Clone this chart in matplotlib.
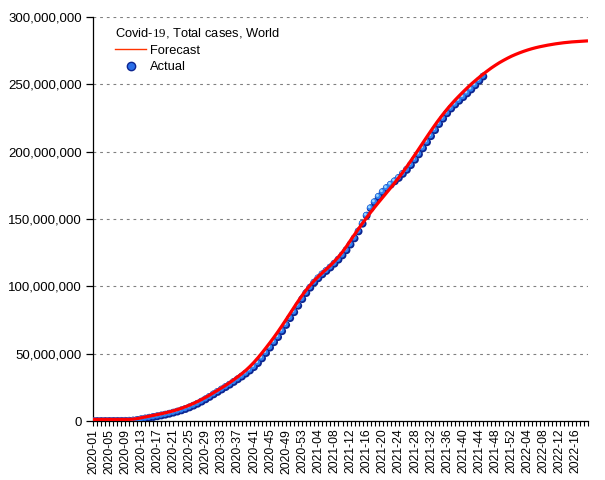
import matplotlib
matplotlib.use('Agg')
import matplotlib.pyplot as plt
import matplotlib.transforms as mtransforms
from matplotlib.lines import Line2D
from matplotlib.ticker import FuncFormatter

plt.rcParams['font.family'] = ['Liberation Sans', 'DejaVu Sans']
plt.rcParams['mathtext.fontset'] = 'custom'
plt.rcParams['mathtext.rm'] = 'Liberation Serif'

# ISO weeks on the x axis: 2020-01 .. 2022-19
weeks = ([f'2020-{w:02d}' for w in range(1, 54)] +
         [f'2021-{w:02d}' for w in range(1, 53)] +
         [f'2022-{w:02d}' for w in range(1, 20)])

# Actual cumulative cases (millions), 2020-01 .. 2021-46
actual_m = [
    0.0, 0.0002, 0.0021, 0.017, 0.040, 0.069, 0.079, 0.088, 0.110, 0.167,
    0.337, 0.72, 1.27, 1.85, 2.40, 2.95, 3.50, 4.10, 4.70, 5.40,
    6.20, 7.00, 7.90, 8.90, 10.1, 11.4, 12.8, 14.4, 16.1, 17.9,
    19.8, 21.6, 23.4, 25.2, 27.0, 29.0, 31.0, 33.0, 35.2, 37.5,
    40.0, 43.0, 46.5, 50.5, 54.5, 58.5, 62.3, 66.7, 71.3, 76.4,
    80.8, 85.6, 90.5, 95.0, 99.0, 102.8, 106.0, 108.9, 111.4, 114.0,
    116.8, 119.8, 123.0, 126.8, 131.0, 135.6, 140.8, 146.5, 152.5, 158.0,
    162.5, 166.5, 170.0, 173.0, 175.5, 178.0, 180.5, 183.5, 186.5, 190.0,
    194.0, 198.0, 202.5, 207.0, 211.5, 216.0, 220.5, 224.5, 228.5, 232.0,
    235.0, 237.8, 240.5, 243.3, 246.2, 249.3, 252.6, 255.8,
]

# Forecast cumulative cases (millions), whole range
forecast_m = [
    1.2, 1.2, 1.2, 1.2, 1.2, 1.2, 1.2, 1.2, 1.2, 1.2,
    1.4, 1.8, 2.4, 3.0, 3.6, 4.2, 4.8, 5.4, 6.1, 6.8,
    7.6, 8.5, 9.5, 10.6, 11.8, 13.1, 14.5, 16.0, 17.6, 19.3,
    21.1, 22.9, 24.7, 26.6, 28.6, 30.7, 32.9, 35.2, 37.7, 40.5,
    43.6, 47.0, 50.6, 54.4, 58.3, 62.3, 66.5, 70.9, 75.4, 80.0,
    84.6, 89.1, 93.4, 97.4, 101.0, 104.3, 107.3, 110.1, 112.8, 115.6,
    118.6, 121.9, 125.6, 129.7, 134.2, 138.5, 142.8, 147.0, 151.0, 155.0,
    158.8, 162.5, 166.1, 169.7, 173.3, 177.0, 180.8, 184.8, 189.0, 193.3,
    197.7, 202.2, 206.7, 211.2, 215.6, 219.9, 224.0, 227.9, 231.6, 235.1,
    238.4, 241.5, 244.5, 247.4, 250.2, 252.8, 255.3, 257.7, 260.0, 262.2,
    264.2, 266.1, 267.8, 269.4, 270.9, 272.2, 273.4, 274.5, 275.5, 276.4,
    277.2, 277.9, 278.5, 279.1, 279.6, 280.1, 280.5, 280.9, 281.2, 281.5,
    281.7, 281.9, 282.1, 282.3,
]

actual = [v * 1e6 for v in actual_m]
forecast = [v * 1e6 for v in forecast_m]
x_all = list(range(len(weeks)))
x_act = x_all[:len(actual)]

fig = plt.figure(figsize=(6.05, 4.8), dpi=100)
ax = fig.add_axes([93 / 605, 1 - 421 / 480, 495 / 605, 404 / 480])

# actual points as shaded spheres
ax.scatter(x_act, actual, s=32, color='#0c2590', edgecolors='none', zorder=3)
shift = mtransforms.offset_copy(ax.transData, fig=fig, x=-0.7, y=0.7, units='dots')
ax.scatter(x_act, actual, s=18, color='#3080f0', edgecolors='none', zorder=3, transform=shift)
shift2 = mtransforms.offset_copy(ax.transData, fig=fig, x=-1.3, y=1.3, units='dots')
ax.scatter(x_act, actual, s=4, color='#9ad8ff', edgecolors='none', zorder=3, transform=shift2)

ax.plot(x_all, forecast, color='#ff0000', lw=2.3, zorder=4, solid_capstyle='butt')

ax.set_xlim(0, len(weeks) - 1)
ax.set_ylim(0, 300e6)
ax.set_yticks(range(0, 300000001, 50000000))
ax.yaxis.set_major_formatter(FuncFormatter(lambda v, p: f'{int(v):,}'))
ax.set_xticks(x_all)
ax.set_xticklabels([w if i % 4 == 0 else '' for i, w in enumerate(weeks)],
                   rotation=90, fontsize=8.8)
ax.tick_params(axis='y', direction='out', length=5, width=0.9, pad=3, labelsize=9.5)
ax.tick_params(axis='x', direction='out', length=3.5, width=0.8, pad=2)

ax.grid(axis='y', color='#808080', lw=0.8, linestyle=(0, (2.5, 3.5)))
ax.set_axisbelow(True)
for s in ['top', 'right']:
    ax.spines[s].set_visible(False)
for s in ['left', 'bottom']:
    ax.spines[s].set_linewidth(0.9)

handles = [
    Line2D([], [], color='#ff3300', lw=1.0),
    Line2D([], [], ls='none', marker='o', markersize=6, color='#2a6ee8',
           markeredgecolor='#0c2590'),
]
leg = ax.legend(handles, ['Forecast', 'Actual'], title='Covid-$\\mathrm{19}$, Total cases, World',
                loc='upper left', bbox_to_anchor=(0.027, 1.0), frameon=False,
                fontsize=9.3, title_fontsize=9.3, handlelength=2.4, handletextpad=0.3,
                labelspacing=0.35, borderpad=0.2)
leg._legend_box.align = 'left'

fig.savefig('out.png', dpi=100)
